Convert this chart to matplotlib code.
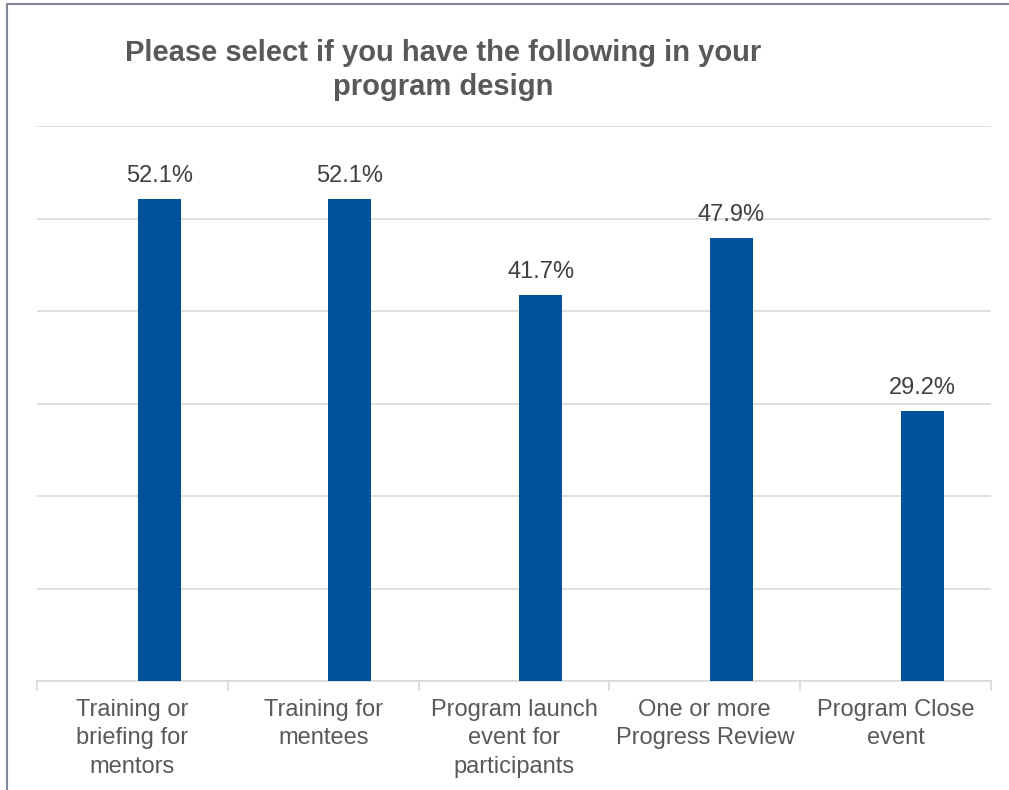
import matplotlib
matplotlib.use("Agg")
import matplotlib.pyplot as plt
from matplotlib.patches import Rectangle
import numpy as np

categories = ["Training or\nbriefing for\nmentors", "Training for\nmentees",
              "Program launch\nevent for\nparticipants", "One or more\nProgress Review",
              "Program Close\nevent"]
values = [52.1, 52.1, 41.7, 47.9, 29.2]
title = "Please select if you have the following in your\nprogram design"

plt.rcParams['font.family'] = ['Liberation Sans', 'DejaVu Sans']
W, H = 1009, 790
fig = plt.figure(figsize=(W / 100, H / 100), dpi=100)
ax = fig.add_axes([37 / W, 1 - 681 / H, (991 - 37) / W, (681 - 126) / H])

x = np.arange(len(categories))
offset = 0.14
bars = ax.bar(x + offset, values, width=0.226, color='#00529B', zorder=3)
ax.set_xlim(-0.5, len(categories) - 0.5)
ax.set_ylim(0, 60)
ax.set_yticks(np.arange(0, 61, 10))
ax.yaxis.grid(True, color='#D9D9D9', linewidth=1.2, zorder=0)
ax.tick_params(axis='y', left=False, labelleft=False)
for s in ['top', 'right', 'left']:
    ax.spines[s].set_visible(False)
ax.spines['bottom'].set_color('#D9D9D9')
ax.spines['bottom'].set_linewidth(1.2)

ax.set_xticks(x)
ax.set_xticklabels(categories, fontsize=17, color='#595959', linespacing=1.37)
ax.tick_params(axis='x', length=0, pad=13)
ax.set_xticks(np.arange(-0.5, len(categories), 1), minor=True)
ax.tick_params(axis='x', which='minor', length=7, color='#D9D9D9', width=1.2)

for xi, v in zip(x + offset, values):
    ax.annotate(f"{v:.1f}%", (xi, v), xytext=(0, 8.5), textcoords='offset points',
                ha='center', va='bottom', fontsize=17, color='#404040')

fig.text(443 / W, 1 - 70 / H, title, ha='center', va='center', fontsize=21,
         fontweight='bold', color='#595959', linespacing=1.3)

fig.patches.append(Rectangle((7 / W, -0.1), 1.2, 1 - 4 / H + 0.1, transform=fig.transFigure,
                             fill=False, edgecolor='#7F8894', linewidth=1.5))

fig.savefig("out.png", dpi=100)
